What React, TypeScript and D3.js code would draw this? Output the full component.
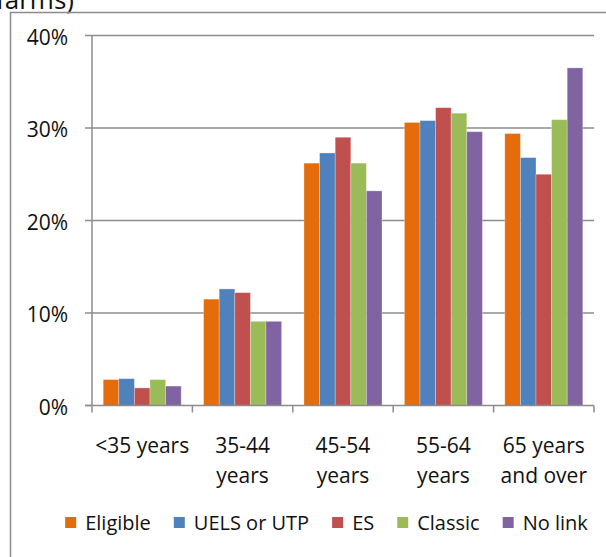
import React, { useEffect, useRef } from "react";
import * as d3 from "d3";

const categories = ["<35 years", "35-44 years", "45-54 years", "55-64 years", "65 years and over"];
const categoryLines = [["<35 years"], ["35-44", "years"], ["45-54", "years"], ["55-64", "years"], ["65 years", "and over"]];
const seriesNames = ["Eligible", "UELS or UTP", "ES", "Classic", "No link"];
const seriesColors = ["#E46C0A", "#4F81BD", "#C0504D", "#9BBB59", "#8064A2"];
const eligible = [2.8, 11.5, 26.2, 30.6, 29.4];
const uelsOrUtp = [2.9, 12.6, 27.3, 30.8, 26.8];
const es = [1.9, 12.2, 29.0, 32.2, 25.0];
const classic = [2.8, 9.1, 26.2, 31.6, 30.9];
const noLink = [2.1, 9.1, 23.2, 29.6, 36.5];
const yTicks = [0, 10, 20, 30, 40];

const seriesValues = [eligible, uelsOrUtp, es, classic, noLink];

const W = 606;
const H = 557;
const FONT = "'Open Sans', 'DejaVu Sans', sans-serif";
const GREY = "#8c8c8c";

export default function App() {
  const ref = useRef<SVGSVGElement | null>(null);

  useEffect(() => {
    const svg = d3.select(ref.current);
    svg.selectAll("*").remove();

    const left = 92, right = 594, top = 35.5, bottom = 405.5;

    // Title remnant (cut off at top, as in the reference)
    svg.append("text").attr("x", -4).attr("y", 9).attr("font-family", FONT).attr("font-size", 26)
      .attr("fill", "#111").text("farms)");

    // Outer frame
    svg.append("rect").attr("x", 10.5).attr("y", 12.5).attr("width", 700).attr("height", 700)
      .attr("fill", "none").attr("stroke", GREY).attr("stroke-width", 1.5);

    const y = d3.scaleLinear().domain([0, 40]).range([bottom, top]);
    const x0 = d3.scaleBand<string>().domain(categories).range([left, right]).padding(0);
    const bw = x0.bandwidth();
    const x1 = d3.scaleBand<string>().domain(seriesNames).range([bw * 0.1116, bw * 0.8884]).padding(0);

    // gridlines
    svg.append("g").selectAll("line").data(yTicks.filter(t => t > 0)).join("line")
      .attr("x1", left).attr("x2", right).attr("y1", d => y(d)).attr("y2", d => y(d))
      .attr("stroke", GREY).attr("stroke-width", 1.5);

    // y ticks + labels
    const yg = svg.append("g");
    yg.selectAll("line").data(yTicks).join("line")
      .attr("x1", left - 7).attr("x2", left).attr("y1", d => y(d)).attr("y2", d => y(d))
      .attr("stroke", GREY).attr("stroke-width", 1.5);
    yg.selectAll("text").data(yTicks).join("text")
      .attr("x", 68).attr("y", d => y(d) + 1).attr("text-anchor", "end").attr("dominant-baseline", "central")
      .attr("font-family", FONT).attr("font-size", 21).attr("fill", "#111")
      .text(d => `${d}%`);

    // bars
    const groups = svg.append("g").selectAll("g").data(categories).join("g")
      .attr("transform", c => `translate(${x0(c)},0)`);
    groups.selectAll("rect").data((c, ci) => seriesNames.map((s, si) => ({ s, si, v: seriesValues[si][ci] }))).join("rect")
      .attr("x", d => x1(d.s)!).attr("width", x1.bandwidth())
      .attr("y", d => y(d.v)).attr("height", d => bottom - y(d.v))
      .attr("fill", d => seriesColors[d.si])
      .attr("stroke", "#ffffff").attr("stroke-opacity", 0.35).attr("stroke-width", 0.8);

    // axes lines
    svg.append("line").attr("x1", left).attr("x2", left).attr("y1", top).attr("y2", bottom)
      .attr("stroke", GREY).attr("stroke-width", 1.5);
    svg.append("line").attr("x1", left - 7).attr("x2", right).attr("y1", bottom).attr("y2", bottom)
      .attr("stroke", GREY).attr("stroke-width", 1.5);
    const xTickPos = categories.map(c => x0(c)!).concat([right]);
    svg.append("g").selectAll("line").data(xTickPos).join("line")
      .attr("x1", d => d).attr("x2", d => d).attr("y1", bottom).attr("y2", bottom + 7)
      .attr("stroke", GREY).attr("stroke-width", 1.5);

    // x labels
    const xl = svg.append("g").selectAll("text").data(categories).join("text")
      .attr("x", c => x0(c)! + bw / 2).attr("y", 453).attr("text-anchor", "middle")
      .attr("font-family", FONT).attr("font-size", 21).attr("fill", "#111");
    xl.selectAll("tspan").data((c, i) => categoryLines[i]).join("tspan")
      .attr("x", function () { return (this.parentNode as SVGTextElement).getAttribute("x"); })
      .attr("dy", (d, i) => (i === 0 ? 0 : 30)).text(d => d);

    // legend
    const lg = svg.append("g");
    const sq = 11, gapText = 9, gapItem = 23;
    let cx = 0;
    seriesNames.forEach((name, i) => {
      const g = lg.append("g");
      g.append("rect").attr("x", 0).attr("y", 517).attr("width", sq).attr("height", sq).attr("fill", seriesColors[i]);
      const t = g.append("text").attr("x", sq + gapText).attr("y", 530).attr("font-family", FONT)
        .attr("font-size", 20).attr("fill", "#111").text(name);
      const w = (t.node() as SVGTextElement).getComputedTextLength();
      g.attr("transform", `translate(${cx},0)`);
      cx += sq + gapText + w + gapItem;
    });
    const total = cx - gapItem;
    const startX = 326.5 - total / 2;
    lg.attr("transform", `translate(${startX},0)`);
  }, []);

  return (
    <div style={{ position: "absolute", left: 0, top: 0, width: W, height: H, overflow: "hidden", background: "#fff" }}>
      <svg ref={ref} width={W} height={H} />
    </div>
  );
}
